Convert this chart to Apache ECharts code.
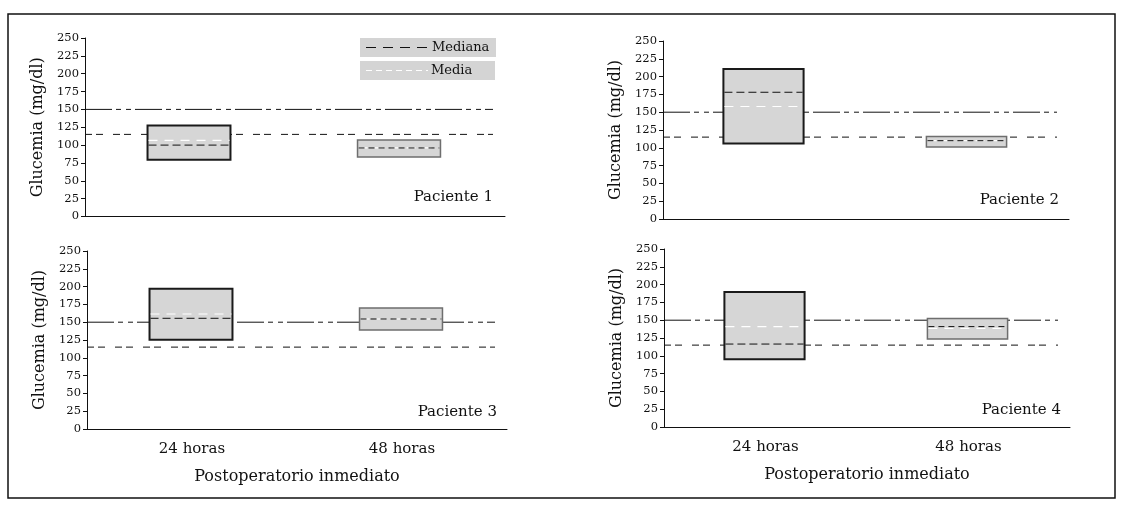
<!DOCTYPE html>
<html><head><meta charset="utf-8">
<script src="https://cdn.jsdelivr.net/npm/echarts@6/dist/echarts.min.js"></script>
<style>html,body{margin:0;padding:0;background:#fff}#c{width:1129px;height:505px}</style>
</head><body><div id="c"></div>
<script>
// ---- data ----
const categories = ['24 horas', '48 horas'];
const patients = ['Paciente 1', 'Paciente 2', 'Paciente 3', 'Paciente 4'];
const boxLow    = [[79.5, 83.5], [106, 101], [125.5, 139], [95, 123.5]];
const boxHigh   = [[127.5, 107], [210.5, 116], [197, 170], [189.5, 152.5]];
const medianVal = [[100, 96], [178, 110], [155.5, 154.5], [116.5, 141]];
const meanVal   = [[106.5, 96], [158, 110], [161.5, 154.5], [141, 138.5]];
const refUpper  = [150, 150, 150, 150];
const refLower  = [115, 115, 115, 115];
const yMin = 0, yMax = 250, yStep = 25;
const yTitle = 'Glucemia (mg/dl)';
const xTitle = 'Postoperatorio inmediato';

const FONT = 'DejaVu Serif';
const grids = [
  {left: 85, top: 38, width: 420, height: 178.5},
  {left: 663, top: 41, width: 406, height: 178},
  {left: 87, top: 251, width: 420, height: 178},
  {left: 664, top: 249, width: 406, height: 178}
];

const chart = echarts.init(document.getElementById('c'), null, {renderer: 'canvas'});
const xAxes = [], yAxes = [], series = [];
grids.forEach((g, i) => {
  const bottomRow = i >= 2;
  xAxes.push({
    gridIndex: i, type: 'category', data: categories, boundaryGap: true,
    axisLine: {lineStyle: {color: '#111', width: 1}},
    axisTick: {show: false},
    axisLabel: {show: bottomRow, fontFamily: FONT, fontSize: 15, color: '#111', margin: 13},
    name: bottomRow ? xTitle : '', nameLocation: 'middle', nameGap: 40,
    nameTextStyle: {fontFamily: FONT, fontSize: 16, color: '#111'}
  });
  yAxes.push({
    gridIndex: i, type: 'value', min: yMin, max: yMax, interval: yStep,
    axisLine: {show: true, lineStyle: {color: '#111', width: 1}},
    axisTick: {show: true, length: 4, lineStyle: {color: '#111'}},
    splitLine: {show: false},
    axisLabel: {fontFamily: FONT, fontSize: 11.5, color: '#111', margin: 6},
    name: yTitle, nameLocation: 'middle', nameGap: 39,
    nameTextStyle: {fontFamily: FONT, fontSize: 16, color: '#111'}
  });
  // reference lines
  [[refUpper[i], [27, 4, 5, 5, 5, 4]], [refLower[i], [7, 4, 7, 10]]].forEach(([v, dash]) => {
    series.push({
      type: 'custom', xAxisIndex: i, yAxisIndex: i, z: 1, silent: true,
      data: [[0, v]],
      renderItem: (params, api) => {
        const cs = params.coordSys;
        const y = api.coord([0, api.value(1)])[1];
        return {type: 'line', shape: {x1: cs.x, y1: y, x2: cs.x + cs.width - 12, y2: y},
          style: {stroke: '#111', lineWidth: 1, lineDash: dash}};
      }
    });
  });
  // boxes
  const items = categories.map((c, k) => [k, boxLow[i][k], boxHigh[i][k], medianVal[i][k], meanVal[i][k]]);
  series.push({
    type: 'custom', xAxisIndex: i, yAxisIndex: i, z: 5, silent: true,
    data: items,
    renderItem: (params, api) => {
      const k = api.value(0);
      const top = api.coord([k, api.value(2)]);
      const bot = api.coord([k, api.value(1)]);
      const w = api.size([1, 0])[0] * 0.395;
      const x0 = top[0] - w / 2 - 1;
      const ym = api.coord([k, api.value(3)])[1];
      const ya = api.coord([k, api.value(4)])[1];
      const first = k === 0;
      return {type: 'group', children: [
        {type: 'rect', shape: {x: x0, y: top[1], width: w, height: bot[1] - top[1]},
          style: {fill: '#d6d6d6', stroke: first ? '#1a1a1a' : '#6e6e6e', lineWidth: first ? 2 : 1.5}},
        {type: 'line', shape: {x1: x0 + 1, y1: ya, x2: x0 + w - 1, y2: ya},
          style: {stroke: '#ffffff', lineWidth: 1.2, lineDash: [9, 7]}},
        {type: 'line', shape: {x1: x0 + 1, y1: ym, x2: x0 + w - 1, y2: ym},
          style: {stroke: '#111', lineWidth: 1, lineDash: first ? [8, 4] : [6, 4]}}
      ]};
    }
  });
});

const labelPos = [[493, 197], [1059, 200], [497, 412], [1061, 410]];
const graphics = [
  {type: 'rect', shape: {x: 8, y: 14, width: 1107, height: 484}, style: {fill: 'none', stroke: '#111', lineWidth: 1.5}, z: 100},
  // legend
  {type: 'rect', shape: {x: 360, y: 38, width: 136, height: 19}, style: {fill: '#d4d4d4'}, z: 50},
  {type: 'line', shape: {x1: 366, y1: 47.5, x2: 431, y2: 47.5}, style: {stroke: '#111', lineWidth: 1, lineDash: [10, 7]}, z: 51},
  {type: 'text', x: 432, y: 47.5, style: {text: 'Mediana', fontFamily: FONT, fontSize: 13, fill: '#111', textVerticalAlign: 'middle', verticalAlign: 'middle'}, z: 51},
  {type: 'rect', shape: {x: 360, y: 61, width: 135, height: 19}, style: {fill: '#d4d4d4'}, z: 50},
  {type: 'line', shape: {x1: 366, y1: 70.5, x2: 428, y2: 70.5}, style: {stroke: '#fff', lineWidth: 1, lineDash: [6, 4]}, z: 51},
  {type: 'text', x: 431, y: 70.5, style: {text: 'Media', fontFamily: FONT, fontSize: 13, fill: '#111', textVerticalAlign: 'middle', verticalAlign: 'middle'}, z: 51}
];
patients.forEach((p, i) => {
  graphics.push({type: 'text', x: labelPos[i][0], y: labelPos[i][1], z: 60,
    style: {text: p, fontFamily: FONT, fontSize: 15, fill: '#111', textAlign: 'right', align: 'right', textVerticalAlign: 'middle', verticalAlign: 'middle'}});
});

chart.setOption({
  backgroundColor: '#fff', animation: false,
  grid: grids.map(g => Object.assign({containLabel: false}, g)),
  xAxis: xAxes, yAxis: yAxes, series: series, graphic: graphics
});
</script></body></html>
